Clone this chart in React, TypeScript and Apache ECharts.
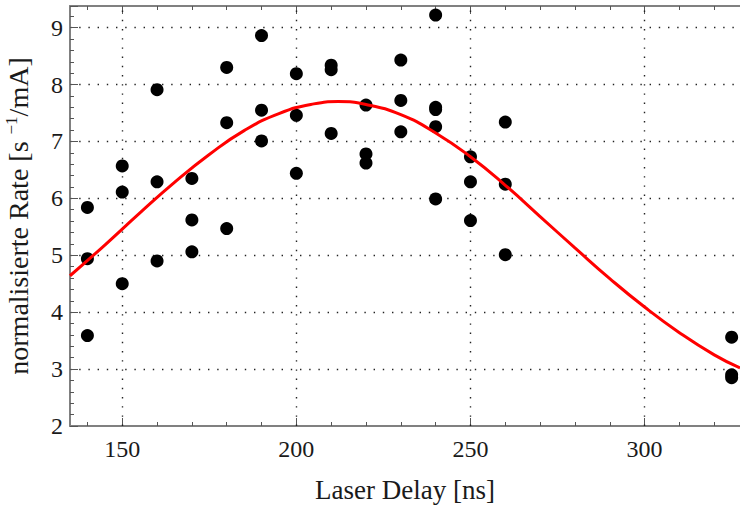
import React, { useEffect, useRef } from "react";
import * as echarts from "echarts";

// Measured points: laser delay [ns] and normalised rate [1/(s mA)]
const delays: number[] = [
  140, 140, 140,
  150, 150, 150,
  160, 160, 160,
  170, 170, 170,
  180, 180, 180,
  190, 190, 190,
  200, 200, 200,
  210, 210, 210,
  220, 220, 220,
  230, 230, 230,
  240, 240, 240, 240, 240,
  250, 250, 250,
  260, 260, 260,
  325, 325, 325,
];
const rates: number[] = [
  5.84, 4.94, 3.59,
  6.57, 6.11, 4.5,
  7.91, 6.29, 4.9,
  6.35, 5.62, 5.06,
  8.3, 7.33, 5.47,
  8.86, 7.55, 7.01,
  8.19, 7.46, 6.44,
  8.34, 8.26, 7.14,
  7.64, 6.78, 6.62,
  8.43, 7.72, 7.17,
  9.22, 7.6, 7.56, 7.26, 5.99,
  6.73, 6.29, 5.61,
  7.34, 6.25, 5.01,
  3.56, 2.9, 2.85,
];

// Fitted curve
const fitDelays: number[] = [
  135, 145, 155, 165, 175, 185, 195, 205, 212, 220, 230, 240, 250, 260, 270,
  280, 290, 300, 310, 320, 327.4,
];
const fitRates: number[] = [
  4.64, 5.18, 5.74, 6.28, 6.77, 7.19, 7.49, 7.66, 7.7, 7.65, 7.47, 7.15, 6.73,
  6.23, 5.68, 5.13, 4.59, 4.09, 3.64, 3.25, 3.02,
];

// Tick labels / tick positions
const xMajorTicks: number[] = [150, 200, 250, 300];
const xMinorTicks: number[] = [
  140, 150, 160, 170, 180, 190, 200, 210, 220, 230, 240, 250, 260, 270, 280,
  290, 300, 310, 320,
];
const yMajorTicks: number[] = [2, 3, 4, 5, 6, 7, 8, 9];

const X_MIN = 135;
const X_MAX = 327.4;
const Y_MIN = 2;
const Y_MAX = 9.38;
const Y_MAJOR = 1;
const Y_MINOR = 0.2;

const xTitle = "Laser Delay [ns]";
const yTitle = "normalisierte Rate [s {sup|−1}/mA]";

const FONT = "'Liberation Serif', 'Times New Roman', serif";
const TEXT = "#1a1a1a";
const AXIS = "#808080";
const TICK = "#555555";

export default function App() {
  const ref = useRef<HTMLDivElement>(null);

  useEffect(() => {
    if (!ref.current) return;
    const chart = echarts.init(ref.current, null, { renderer: "svg" });
    const dotted = { color: "#222", width: 1.4, type: [1.4, 7.8] as any };

    const xAxisDef = (
      position: string,
      ticks: number[],
      major: boolean,
      withLine: boolean,
      labels: boolean
    ): any => ({
      type: "value",
      position,
      min: X_MIN,
      max: X_MAX,
      axisLine: {
        show: withLine,
        onZero: false,
        lineStyle: { color: AXIS, width: 2 },
      },
      axisTick: {
        show: true,
        inside: true,
        customValues: ticks,
        length: major ? 8 : 4,
        lineStyle: { color: TICK, width: 1 },
      },
      axisLabel: labels
        ? {
            show: true,
            customValues: ticks,
            fontFamily: FONT,
            fontSize: 24,
            color: TEXT,
            margin: 11,
            formatter: (v: number) => String(v),
          }
        : { show: false },
      splitLine: { show: false },
      minorTick: { show: false },
      minorSplitLine: { show: false },
    });

    const yAxisDef = (
      interval: number,
      major: boolean,
      withLine: boolean,
      labels: boolean,
      split: boolean
    ): any => ({
      type: "value",
      position: "left",
      min: Y_MIN,
      max: Y_MAX,
      interval,
      axisLine: {
        show: withLine,
        onZero: false,
        lineStyle: { color: AXIS, width: 2 },
      },
      axisTick: {
        show: true,
        inside: true,
        length: major ? 8 : 4,
        lineStyle: { color: TICK, width: 1 },
      },
      axisLabel: labels
        ? {
            show: true,
            fontFamily: FONT,
            fontSize: 24,
            color: TEXT,
            margin: 7,
            formatter: (v: number) =>
              yMajorTicks.indexOf(Number(v.toFixed(6))) >= 0 ? String(v) : "",
          }
        : { show: false },
      splitLine: split
        ? { show: true, showMinLine: false, showMaxLine: false, lineStyle: dotted }
        : { show: false },
      minorTick: { show: false },
      minorSplitLine: { show: false },
    });

    const xMain = {
      ...xAxisDef("bottom", xMajorTicks, true, true, true),
      name: xTitle,
      nameLocation: "middle",
      nameGap: 50,
      nameTextStyle: { fontFamily: FONT, fontSize: 27, color: TEXT },
    };
    const yMain = {
      ...yAxisDef(Y_MAJOR, true, true, true, true),
      name: yTitle,
      nameLocation: "middle",
      nameRotate: 90,
      nameGap: 36,
      nameTextStyle: {
        fontFamily: FONT,
        fontSize: 28,
        color: TEXT,
        lineHeight: 31,
        rich: {
          sup: {
            fontFamily: FONT,
            fontSize: 17,
            color: TEXT,
            verticalAlign: "top",
            lineHeight: 17,
          },
        },
      },
    };

    const scatterData = delays.map((d, i) => [d, rates[i]]);
    const fitData = fitDelays.map((d, i) => [d, fitRates[i]]);

    chart.setOption({
      animation: false,
      backgroundColor: "#ffffff",
      grid: {
        left: 70,
        right: 0,
        top: 6,
        bottom: 81,
        containLabel: false,
        outerBoundsMode: "none",
      },
      xAxis: [
        xMain,
        xAxisDef("bottom", xMinorTicks, false, false, false),
        xAxisDef("top", xMajorTicks, true, true, false),
        xAxisDef("top", xMinorTicks, false, false, false),
      ],
      yAxis: [yMain, yAxisDef(Y_MINOR, false, false, false, false)],
      series: [
        {
          type: "scatter",
          xAxisIndex: 0,
          yAxisIndex: 0,
          data: scatterData,
          symbol: "circle",
          symbolSize: 13,
          itemStyle: { color: "#000000", opacity: 1 },
          z: 3,
          markLine: {
            silent: true,
            symbol: "none",
            z: 1,
            label: { show: false },
            emphasis: { disabled: true },
            lineStyle: dotted,
            data: xMajorTicks.map((v) => ({ xAxis: v })),
          },
        },
        {
          type: "line",
          xAxisIndex: 0,
          yAxisIndex: 0,
          data: fitData,
          smooth: true,
          showSymbol: false,
          lineStyle: { color: "#ff0000", width: 3 },
          z: 4,
        },
      ],
    });

    return () => chart.dispose();
  }, []);

  return (
    <div
      ref={ref}
      style={{ position: "fixed", left: 0, top: 0, width: 740, height: 507 }}
    />
  );
}
